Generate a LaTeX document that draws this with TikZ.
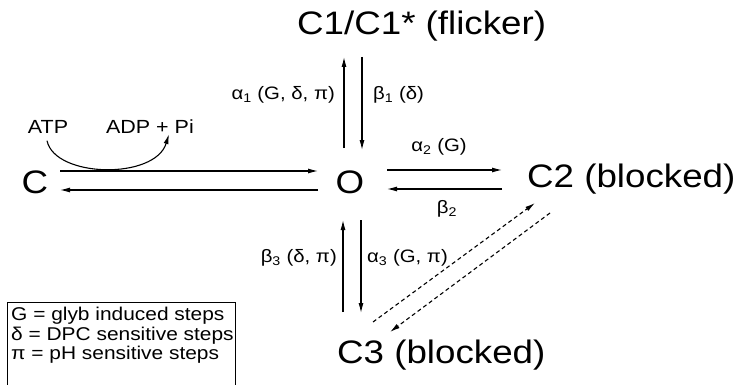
\documentclass[tikz,border=0pt]{standalone}
\usepackage{graphicx}
\usepackage{fontspec}
\setmainfont{Liberation Sans}
\usetikzlibrary{arrows.meta,calc}
% the lettering is set slightly wider than the font's natural width
\newcommand{\widetext}[1]{\scalebox{1.13}[1]{#1}}
\begin{document}
\begin{tikzpicture}[x=1pt,y=-1pt,
  state/.style={font=\fontsize{32.5}{36}\selectfont, inner sep=0pt, anchor=base west},
  rate/.style={font=\fontsize{18}{20}\selectfont, inner sep=0pt},
  chem/.style={font=\fontsize{19}{20}\selectfont, inner sep=0pt},
  legtext/.style={font=\fontsize{18.5}{20}\selectfont, inner sep=0pt, anchor=west},
  arr/.style={line width=1.1pt, -{Latex[length=10pt,width=5pt]}},
  darr/.style={arr, dash pattern=on 4pt off 3pt}]
\useasboundingbox (0,0) rectangle (738,385);

% states
\node[state] (C1) at (297,35) {\widetext{C1/C1* (flicker)}};
\node[state, anchor=base] (C)  at (35,193) {\widetext{C}};
\node[state, anchor=base] (O)  at (350,193) {\widetext{O}};
\node[state] (C2) at (527,187) {\widetext{C2 (blocked)}};
\node[state] (C3) at (337,363) {\widetext{C3 (blocked)}};

% ATP hydrolysis coupled to the C -> O step
\node[chem] (atp) at (48,127) {\widetext{ATP}};
\node[chem] (adp) at (150,127) {\widetext{ADP + Pi}};
\draw[arr] ($(atp.south)+(-1,7)$) .. controls (55,178) and (155,180) .. ($(adp.south)+(19,0)$);

% C <-> O
\draw[arr] ($(C.base)+(25,-22)$) -- ($(O.base)+(-32,-22)$);
\draw[arr] ($(O.base)+(-32,-3)$) -- ($(C.base)+(25,-3)$);

% O <-> C1
\draw[arr] ($(O.base)+(-6,-45)$) -- ($(C1.base west)+(47,22)$);
\draw[arr] ($(C1.base west)+(65,22)$) -- ($(O.base)+(12,-43)$);
\node[rate, anchor=east] (a1) at (335,95) {\widetext{α\textsubscript{1} (G, δ, π)}};
\node[rate, anchor=west] (b1) at (373,95) {\widetext{β\textsubscript{1} (δ)}};

% O <-> C2
\draw[arr] ($(O.base)+(37,-23)$) -- ($(C2.base west)+(-25,-17)$);
\draw[arr] ($(C2.base west)+(-25,2)$) -- ($(O.base)+(37,-4)$);
\node[rate] (a2) at (439,147) {\widetext{α\textsubscript{2} (G)}};
\node[rate] (b2) at (447,209) {\widetext{β\textsubscript{2}}};

% O <-> C3
\draw[arr] ($(C3.base west)+(6,-51)$) -- ($(O.base)+(-7,27)$);
\draw[arr] ($(O.base)+(11,27)$) -- ($(C3.base west)+(24,-50)$);
\node[rate, anchor=east] (b3) at (337,258) {\widetext{β\textsubscript{3} (δ, π)}};
\node[rate, anchor=west] (a3) at (367,258) {\widetext{α\textsubscript{3} (G, π)}};

% C3 <-> C2
\draw[darr] ($(C3.base west)+(36,-41)$) -- ($(C2.base west)+(8,16)$);
\draw[darr] ($(C2.base west)+(23,26)$) -- ($(C3.base west)+(53,-31)$);

% legend
\draw[line width=0.8pt] (7,386) |- (235,302) -- (235,386);
\node[legtext] (leg1) at (11,316) {\widetext{G = glyb induced steps}};
\node[legtext] (leg2) at (11,336) {\widetext{δ = DPC sensitive steps}};
\node[legtext] (leg3) at (11,355) {\widetext{π = pH sensitive steps}};
\end{tikzpicture}
\end{document}
